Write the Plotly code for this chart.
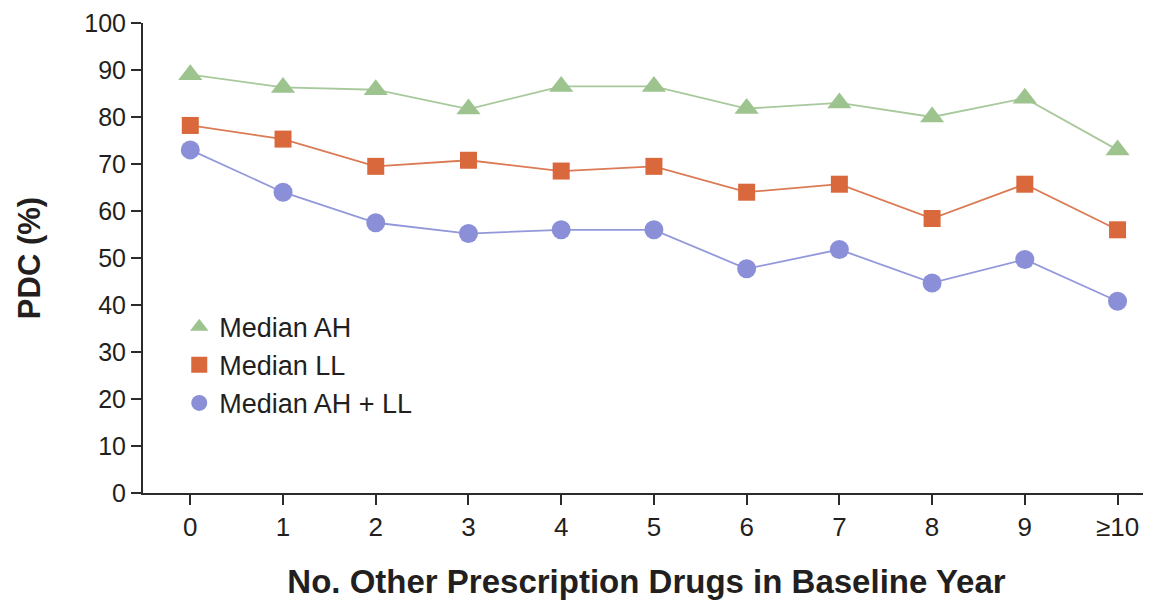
import plotly.graph_objects as go

categories = ["0", "1", "2", "3", "4", "5", "6", "7", "8", "9", "≥10"]
median_ah = [89, 86.3, 85.8, 81.7, 86.5, 86.5, 81.8, 83, 80, 84, 73]
median_ll = [78.2, 75.3, 69.5, 70.8, 68.5, 69.5, 64, 65.7, 58.4, 65.7, 56]
median_ahll = [73, 64, 57.5, 55.2, 56, 56, 47.7, 51.8, 44.7, 49.7, 40.8]
y_ticks = [0, 10, 20, 30, 40, 50, 60, 70, 80, 90, 100]

x_idx = list(range(len(categories)))

fig = go.Figure()
series = [
    ("Median AH", median_ah, "#9dc48f", "#a8c99b", "triangle-up", 21),
    ("Median LL", median_ll, "#d9683d", "#db7a55", "square", 17),
    ("Median AH + LL", median_ahll, "#8a8fd8", "#9398da", "circle", 19),
]
for name, vals, mcol, lcol, sym, sz in series:
    fig.add_trace(go.Scatter(
        x=x_idx, y=vals, name=name, mode="lines+markers", showlegend=False,
        line=dict(color=lcol, width=1.8),
        marker=dict(symbol=sym, size=sz, color=mcol, line=dict(width=0)),
    ))
# legend entries: marker-only symbols
for name, vals, mcol, lcol, sym, sz in series:
    fig.add_trace(go.Scatter(
        x=[None], y=[None], name=name, mode="markers", showlegend=True,
        marker=dict(symbol=sym, size=sz, color=mcol, line=dict(width=0)),
    ))

axis_col = "#2b2b2b"
fig.update_layout(
    width=1151, height=606,
    margin=dict(l=135, r=9, t=15, b=121),
    plot_bgcolor="white", paper_bgcolor="white",
    font=dict(family="Liberation Sans, Arial, sans-serif", size=25, color="#231f20"),
    showlegend=True,
    legend=dict(
        x=0.036, y=0.405, xanchor="left", yanchor="top",
        bgcolor="rgba(0,0,0,0)", font=dict(size=27, color="#231f20"),
        itemsizing="trace", tracegroupgap=0,
    ),
    xaxis=dict(
        range=[-0.51, 10.35], tickmode="array", tickvals=x_idx, ticktext=categories,
        showline=True, linecolor=axis_col, linewidth=2, ticks="outside",
        ticklen=10, tickwidth=2, tickcolor=axis_col, showgrid=False, zeroline=False,
        automargin=False, tickfont=dict(size=26), ticklabeloverflow="allow",
        title=dict(text="<b>No. Other Prescription Drugs in Baseline Year</b>",
                   font=dict(size=33), standoff=29),
    ),
    yaxis=dict(
        range=[0, 100], tickmode="array", tickvals=y_ticks,
        showline=True, linecolor=axis_col, linewidth=2, ticks="outside",
        ticklen=10, tickwidth=2, tickcolor=axis_col, showgrid=False, zeroline=False,
        automargin=False, tickfont=dict(size=25), ticklabeloverflow="allow",
        title=dict(text="<b>PDC (%)</b>", font=dict(size=31), standoff=34),
    ),
)

fig.write_html("out.html")
